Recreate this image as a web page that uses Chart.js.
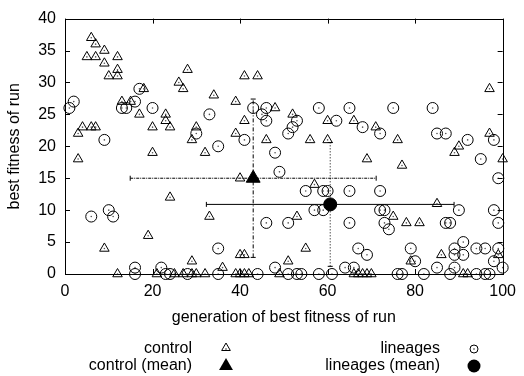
<!DOCTYPE html>
<html>
<head>
<meta charset="utf-8">
<script src="https://cdn.jsdelivr.net/npm/chart.js@4/dist/chart.umd.min.js"></script>
<style>
  body { margin: 0; background: #fff; }
  canvas { display: block; }
</style>
</head>
<body>
<canvas id="chart" width="524" height="376"></canvas>
<script>
// Best fitness of run vs. generation it was reached, control vs. lineages

// [generation, best fitness] per run
const controlPoints = [
  [6,37],[7,36],[9,35],[5,34],[7,34],[12,34],[9,33],[12,32],[10,31],[12,31],[28,32],[26,30],
  [27,29],[18,29],[34,28],[13,27],[15,27],[17,25],[23,25],[23,24],[20,23],[24,23],[4,23],
  [6,23],[7,23],[3,22],[30,23],[29,21],[39,27],[41,31],[44,31],[48,26],[41,24],[39,22],
  [46,21],[52,25],[56,21],[60,21],[60,24],[66,24],[71,23],[76,21],[90,20],[89,19],[97,29],
  [97,22],[3,18],[20,19],[32,19],[24,12],[33,9],[19,6],[9,4],[29,2],[40,15],[57,14],[53,9],
  [40,3],[41,3],[55,4],[51,2],[36,1],[69,18],[77,17],[100,18],[85,11],[75,9],[78,8],[81,8],
  [79,2],[86,3],[99,3],
  [12,0],[21,0],[25,0],[27,0],[29,0],[30,0],[32,0],[39,0],[40,0],[41,0],[42,0],[49,0],
  [66,0],[67,0],[68,0],[69,0],[70,0],[91,0],[92,0]
];

const lineagesPoints = [
  [2,27],[1,26],[13,26],[14,26],[16,27],[20,26],[17,29],[9,21],[30,22],[33,25],[43,26],
  [46,26],[45,25],[46,24],[41,21],[35,20],[53,24],[52,23],[51,22],[58,26],[65,26],[62,24],
  [68,23],[75,26],[84,26],[72,22],[85,22],[87,22],[92,21],[98,21],
  [48,19],[49,16],[55,13],[59,13],[60,13],[65,13],[72,13],[57,10],[59,10],[46,8],[51,8],
  [65,8],[10,10],[6,9],[11,9],[35,4],[16,1],[22,1],[48,1],[64,1],[66,1],[67,4],[95,18],
  [99,15],[72,10],[73,10],[90,10],[98,10],[73,8],[74,7],[87,8],[88,8],[99,8],[69,3],[79,4],
  [80,2],[89,4],[91,5],[89,3],[91,3],[94,4],[96,4],[99,4],[98,2],[100,1],[85,1],[89,1],
  [16,0],[23,0],[24,0],[28,0],[35,0],[44,0],[51,0],[53,0],[54,0],[58,0],[61,0],[76,0],
  [77,0],[82,0],[88,0],[94,0],[96,0],[97,0]
];

// mean [x, y] and error half-widths [x, y]
const controlMean = [43, 15];
const controlErr = [28.1, 12.4];
const lineagesMean = [60.6, 10.9];
const lineagesErr = [28.3, 9.7];

const xTicks = [0, 20, 40, 60, 80, 100];
const yTicks = [0, 5, 10, 15, 20, 25, 30, 35, 40];

const xTitle = 'generation of best fitness of run';
const yTitle = 'best fitness of run';
const legendLabels = ['control', 'control (mean)', 'lineages', 'lineages (mean)'];

const FONT = '"Liberation Sans", Arial, Helvetica, sans-serif';

const toXY = (pts) => pts.map(([x, y]) => ({ x, y }));

// error bars drawn from the mean/err arrays through the chart scales
function drawBars(ctx, xs, ys, mean, err, hDash, vDash) {
  const cx = xs.getPixelForValue(mean[0]);
  const cy = ys.getPixelForValue(mean[1]);
  const x0 = xs.getPixelForValue(mean[0] - err[0]);
  const x1 = xs.getPixelForValue(mean[0] + err[0]);
  const y0 = ys.getPixelForValue(mean[1] - err[1]);
  const y1 = ys.getPixelForValue(mean[1] + err[1]);
  const cap = 2.5;
  ctx.save();
  ctx.strokeStyle = '#000';
  ctx.lineWidth = 1;
  ctx.setLineDash(hDash);
  ctx.beginPath();
  ctx.moveTo(x0, cy); ctx.lineTo(x1, cy);
  ctx.stroke();
  ctx.setLineDash(vDash);
  ctx.beginPath();
  ctx.moveTo(cx, y0); ctx.lineTo(cx, y1);
  ctx.stroke();
  ctx.setLineDash([]);
  ctx.beginPath();
  ctx.moveTo(x0, cy - cap); ctx.lineTo(x0, cy + cap);
  ctx.moveTo(x1, cy - cap); ctx.lineTo(x1, cy + cap);
  ctx.moveTo(cx - cap, y0); ctx.lineTo(cx + cap, y0);
  ctx.moveTo(cx - cap, y1); ctx.lineTo(cx + cap, y1);
  ctx.stroke();
  ctx.restore();
}

const errorBars = {
  id: 'errorBars',
  beforeDatasetsDraw(chart) {
    const { ctx, scales: { x, y } } = chart;
    drawBars(ctx, x, y, controlMean, controlErr, [3, 1, 1, 1], [4, 2, 1, 2]);
    drawBars(ctx, x, y, lineagesMean, lineagesErr, [], [1, 2]);
  }
};

// border with inward ticks on all four sides
const frame = {
  id: 'frame',
  afterDraw(chart) {
    const { ctx, chartArea: a, scales: { x, y } } = chart;
    const t = 5;
    ctx.save();
    ctx.strokeStyle = '#000';
    ctx.lineWidth = 1;
    ctx.beginPath();
    xTicks.forEach(v => {
      const px = Math.round(x.getPixelForValue(v)) + 0.5;
      ctx.moveTo(px, a.bottom); ctx.lineTo(px, a.bottom - t);
      ctx.moveTo(px, a.top); ctx.lineTo(px, a.top + t);
    });
    yTicks.forEach(v => {
      const py = Math.round(y.getPixelForValue(v)) + 0.5;
      ctx.moveTo(a.left, py); ctx.lineTo(a.left + t, py);
      ctx.moveTo(a.right, py); ctx.lineTo(a.right - t, py);
    });
    ctx.stroke();
    ctx.strokeRect(Math.round(a.left) + 0.5, Math.round(a.top) + 0.5,
      Math.round(a.right - a.left), Math.round(a.bottom - a.top));
    ctx.restore();
  }
};

function triangle(ctx, x, y, r, filled) {
  ctx.beginPath();
  for (let i = 0; i < 3; i++) {
    const ang = i * 2 * Math.PI / 3;
    ctx.lineTo(x + Math.sin(ang) * r, y - Math.cos(ang) * r);
  }
  ctx.closePath();
  if (filled) ctx.fill(); else ctx.stroke();
}

function circle(ctx, x, y, r, filled) {
  ctx.beginPath();
  ctx.arc(x, y, r, 0, Math.PI * 2);
  if (filled) ctx.fill(); else ctx.stroke();
}

const texts = {
  id: 'texts',
  afterDraw(chart) {
    const { ctx, chartArea: a } = chart;
    ctx.save();
    ctx.fillStyle = '#000';
    ctx.strokeStyle = '#000';
    ctx.lineWidth = 1;
    ctx.font = '16px ' + FONT;
    ctx.textBaseline = 'middle';
    ctx.textAlign = 'center';
    ctx.fillText(xTitle, (a.left + a.right) / 2, 318);
    ctx.save();
    ctx.translate(15, (a.top + a.bottom) / 2);
    ctx.rotate(-Math.PI / 2);
    ctx.fillText(yTitle, 0, 0);
    ctx.restore();

    // legend
    ctx.textAlign = 'right';
    ctx.fillText(legendLabels[0], 192, 349);
    ctx.fillText(legendLabels[1], 192, 366);
    ctx.fillText(legendLabels[2], 440, 349);
    ctx.fillText(legendLabels[3], 440, 366);
    triangle(ctx, 226, 348, 5, false);
    circle(ctx, 226, 349, 0.7, true);
    triangle(ctx, 226, 366, 8, true);
    circle(ctx, 474, 349, 4, false);
    circle(ctx, 474, 349, 0.7, true);
    circle(ctx, 474, 366, 6.5, true);
    ctx.restore();
  }
};

const open = { borderColor: '#000', backgroundColor: 'rgba(0,0,0,0)', borderWidth: 1, clip: false };
const dot = { pointStyle: 'circle', pointRadius: 0.8, borderWidth: 0, backgroundColor: '#555', clip: false };

new Chart(document.getElementById('chart'), {
  type: 'scatter',
  data: {
    datasets: [
      { label: legendLabels[0], data: toXY(controlPoints), pointStyle: 'triangle', pointRadius: 5.5, ...open },
      { data: toXY(controlPoints), ...dot },
      { label: legendLabels[2], data: toXY(lineagesPoints), pointStyle: 'circle', pointRadius: 5.5, ...open },
      { data: toXY(lineagesPoints), ...dot },
      { label: legendLabels[1], data: toXY([controlMean]), pointStyle: 'triangle', pointRadius: 8,
        backgroundColor: '#000', borderColor: '#000', borderWidth: 1, clip: false },
      { label: legendLabels[3], data: toXY([lineagesMean]), pointStyle: 'circle', pointRadius: 6.5,
        backgroundColor: '#000', borderColor: '#000', borderWidth: 1, clip: false }
    ]
  },
  options: {
    responsive: false,
    animation: false,
    events: [],
    layout: { padding: { left: 0, right: 14, top: 15, bottom: 0 } },
    plugins: { legend: { display: false }, tooltip: { enabled: false } },
    scales: {
      x: {
        type: 'linear', min: 0, max: 100,
        grid: { display: false, drawTicks: false },
        border: { display: false },
        ticks: { stepSize: 20, padding: 8, color: '#000', maxRotation: 0, font: { family: FONT, size: 16 } },
        afterFit(s) { s.height = 102; }
      },
      y: {
        min: 0, max: 40,
        grid: { display: false, drawTicks: false },
        border: { display: false },
        ticks: { stepSize: 5, padding: 9, color: '#000', font: { family: FONT, size: 16 } },
        afterFit(s) { s.width = 65; }
      }
    }
  },
  plugins: [errorBars, frame, texts]
});
</script>
</body>
</html>
